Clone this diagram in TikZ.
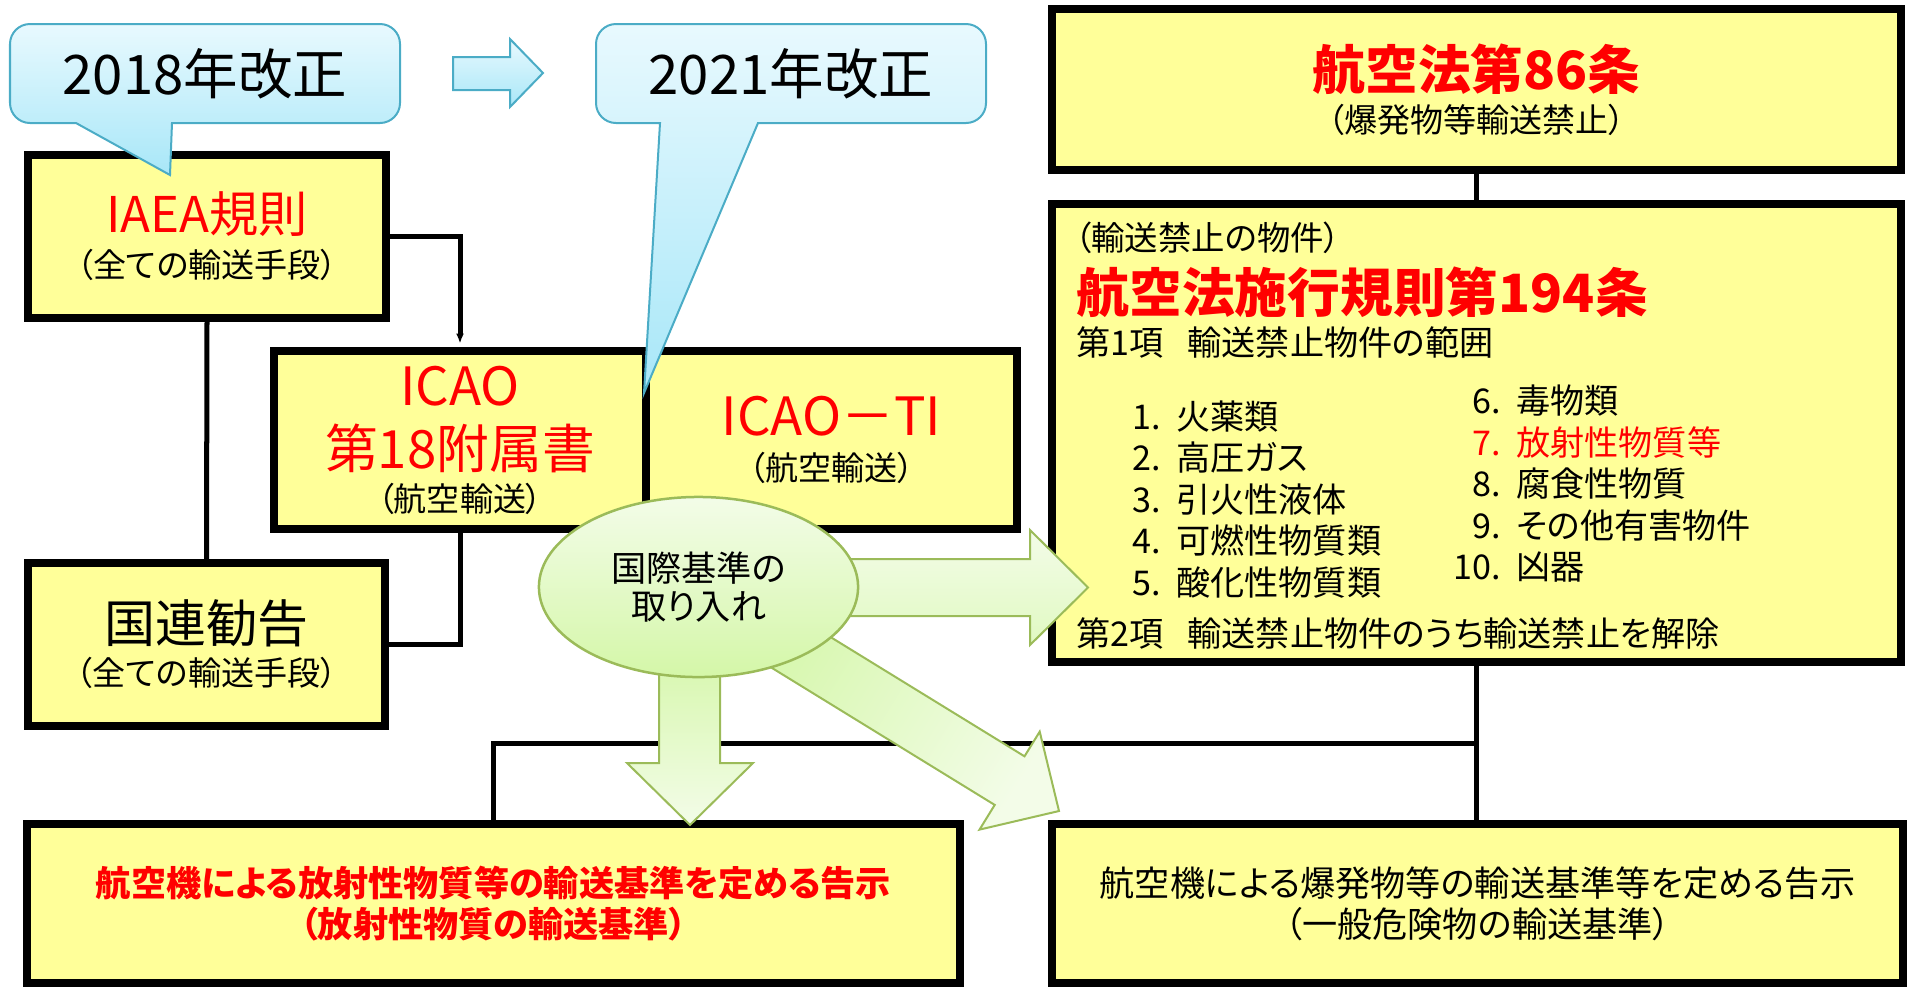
\documentclass[tikz,border=0pt]{standalone}
\usepackage{fontspec}
\setmainfont{Noto Sans CJK JP}[RawFeature=+palt]
\usepackage{tikz}
\usetikzlibrary{arrows.meta, shapes.geometric, positioning, calc}
\definecolor{kaiseiline}{RGB}{75,172,198}
\definecolor{kaiseitop}{RGB}{232,249,254}
\definecolor{kaiseibot}{RGB}{168,231,248}
\definecolor{lawyellow}{RGB}{255,255,153}
\definecolor{intakeline}{RGB}{155,187,89}
\definecolor{intaketop}{RGB}{243,252,232}
\definecolor{intakebot}{RGB}{212,247,168}
\definecolor{lawred}{RGB}{255,0,0}
\setlength{\lineskiplimit}{-30pt}

\newcommand{\redtitle}[2][15]{{\fontsize{#1}{#1}\selectfont\color{lawred}#2}}
\newcommand{\subnote}[1]{{\fontsize{9.4}{10}\selectfont #1}}
\newcommand{\itemnum}[1]{\makebox[1.45em][r]{#1}\hspace{0.45em}}

\begin{document}
\begin{tikzpicture}[x=0.01cm, y=-0.01cm,
    lawbox/.style={draw=black, line width=0.078cm, fill=lawyellow, align=center, inner sep=0pt},
    wire/.style={draw=black, line width=0.05cm},
    bubble/.style={draw=kaiseiline, line width=0.02cm, top color=kaiseitop, bottom color=kaiseibot},
    greenarrow/.style={draw=intakeline, line width=0.02cm},
    textline/.style={anchor=west, inner sep=0pt, align=left}]

  \useasboundingbox (0,0) rectangle (1907,987);

  % left column
  \node[lawbox, minimum width=3.58cm, minimum height=1.63cm, font=\fontsize{9.4}{12.8}\selectfont]
    (iaea) at (207,236.5) {\redtitle[14]{IAEA規則}\\\subnote{（全ての輸送手段）}};
  \node[lawbox, minimum width=3.57cm, minimum height=1.63cm, font=\fontsize{9.4}{12.2}\selectfont]
    (unrec) at (206.5,644.5) {{\fontsize{14.5}{14.5}\selectfont 国連勧告}\\\subnote{（全ての輸送手段）}};
  \node[lawbox, minimum width=3.72cm, minimum height=1.78cm, font=\fontsize{9.4}{12.2}\selectfont]
    (icao) at (460,440) {\redtitle{ICAO}\\[5.8pt]\redtitle{第18附属書}\\\subnote{（航空輸送）}};
  \node[lawbox, minimum width=3.71cm, minimum height=1.78cm, font=\fontsize{9.4}{12.7}\selectfont]
    (icaoti) at (831.5,440) {\redtitle{ICAO－TI}\\\subnote{（航空輸送）}};

  % right column
  \node[lawbox, minimum width=8.49cm, minimum height=1.61cm, font=\fontsize{9.4}{12.2}\selectfont]
    (law86) at (1476.5,89.5) {{\bfseries\redtitle{航空法第86条}}\\\subnote{（爆発物等輸送禁止）}};
  \node[lawbox, minimum width=8.49cm, minimum height=4.58cm] (rule194) at (1476.5,433) {};
  \node[textline, font=\fontsize{9.5}{10}\selectfont] (r194note) at (1074,238) {（輸送禁止の物件）};
  \node[textline, font=\fontsize{15}{15}\selectfont\bfseries, text=lawred] (r194title) at (1076,292)
    {航空法施行規則第194条};
  \node[textline, font=\fontsize{9.7}{11.8}\selectfont] (r194p1) at (1076,342)
    {第1項\hspace{0.7em}輸送禁止物件の範囲};
  \node[textline, font=\fontsize{9.7}{11.8}\selectfont] (r194left) at (1111,499.5)
    {\itemnum{1.}火薬類\\\itemnum{2.}高圧ガス\\\itemnum{3.}引火性液体\\\itemnum{4.}可燃性物質類\\\itemnum{5.}酸化性物質類};
  \node[textline, font=\fontsize{9.7}{11.8}\selectfont] (r194right) at (1451,484)
    {\itemnum{6.}毒物類\\\textcolor{lawred}{\itemnum{7.}放射性物質等}\\\itemnum{8.}腐食性物質\\\itemnum{9.}その他有害物件\\\itemnum{10.}凶器};
  \node[textline, font=\fontsize{9.7}{11.8}\selectfont] (r194p2) at (1076,633)
    {第2項\hspace{0.7em}輸送禁止物件のうち輸送禁止を解除};

  % bottom row
  \node[lawbox, minimum width=9.33cm, minimum height=1.59cm, font=\fontsize{10}{11.7}\selectfont\bfseries, text=lawred]
    (nleft) at (493.5,903.5) {航空機による放射性物質等の輸送基準を定める告示\\（放射性物質の輸送基準）};
  \node[lawbox, minimum width=8.51cm, minimum height=1.59cm, font=\fontsize{10}{11.7}\selectfont]
    (nright) at (1477.5,903.5) {航空機による爆発物等の輸送基準等を定める告示\\（一般危険物の輸送基準）};

  % connectors
  \draw[wire, -{Latex[length=0.1cm, width=0.08cm]}, shorten >=0.035cm] (iaea.east) -| (icao.north);
  \draw[wire] (iaea.south) -- (unrec.north);
  \draw[wire] (icao.south) |- (unrec.east);
  \draw[wire] (law86.south) -- (rule194.north);
  \draw[wire] (rule194.south) -- (rule194.south |- nright.north);
  \coordinate (split) at ($(rule194.south)!0.5!(rule194.south |- nright.north)$);
  \draw[wire] (split) -| (nleft.north);

  % green arrows
  \draw[greenarrow, top color=intaketop, bottom color=intakebot!60!intaketop]
    (840,559) -- (1030,559) -- (1030,530) -- (1088,587.5) -- (1030,645) -- (1030,616) -- (840,616) -- cycle;
  \draw[greenarrow, top color=intakebot, bottom color=intaketop]
    (659,640) -- (659,763) -- (627,763) -- (690,825) -- (753,763) -- (720,763) -- (720,640) -- cycle;
  \draw[greenarrow, top color=intaketop, bottom color=intakebot, shading angle=-121.6]
    (749.3,587.1) -- (1024.5,756.3) -- (1039.7,731.6) -- (1059,811) -- (979.5,829.6) -- (994.7,804.9) -- (719.5,635.7) -- cycle;

  \node[ellipse, draw=intakeline, line width=0.025cm, top color=intaketop, bottom color=intakebot,
    minimum width=3.19cm, minimum height=1.80cm, inner sep=0pt, align=center,
    font=\fontsize{10}{10.8}\selectfont] (intake) at (698.5,587) {国際基準の\\取り入れ};

  % callouts
  \draw[bubble] (172,123) -- (380,123) arc[start angle=90, end angle=0, radius=20] -- (400,44)
    arc[start angle=0, end angle=-90, radius=20] -- (30,24) arc[start angle=-90, end angle=-180, radius=20]
    -- (10,103) arc[start angle=180, end angle=90, radius=20] -- (76,123) -- (170,175) -- cycle;
  \draw[bubble] (758,123) -- (966,123) arc[start angle=90, end angle=0, radius=20] -- (986,44)
    arc[start angle=0, end angle=-90, radius=20] -- (616,24) arc[start angle=-90, end angle=-180, radius=20]
    -- (596,103) arc[start angle=180, end angle=90, radius=20] -- (660,123) -- (644,393) -- cycle;
  \draw[bubble] (453,57) -- (510,57) -- (510,39) -- (543,73) -- (510,107) -- (510,90) -- (453,90) -- cycle;
  \node[font=\fontsize{15.5}{15.5}\selectfont] (kaisei2018) at (205,74) {2018年改正};
  \node[font=\fontsize{15.5}{15.5}\selectfont] (kaisei2021) at (791,74) {2021年改正};
\end{tikzpicture}
\end{document}
